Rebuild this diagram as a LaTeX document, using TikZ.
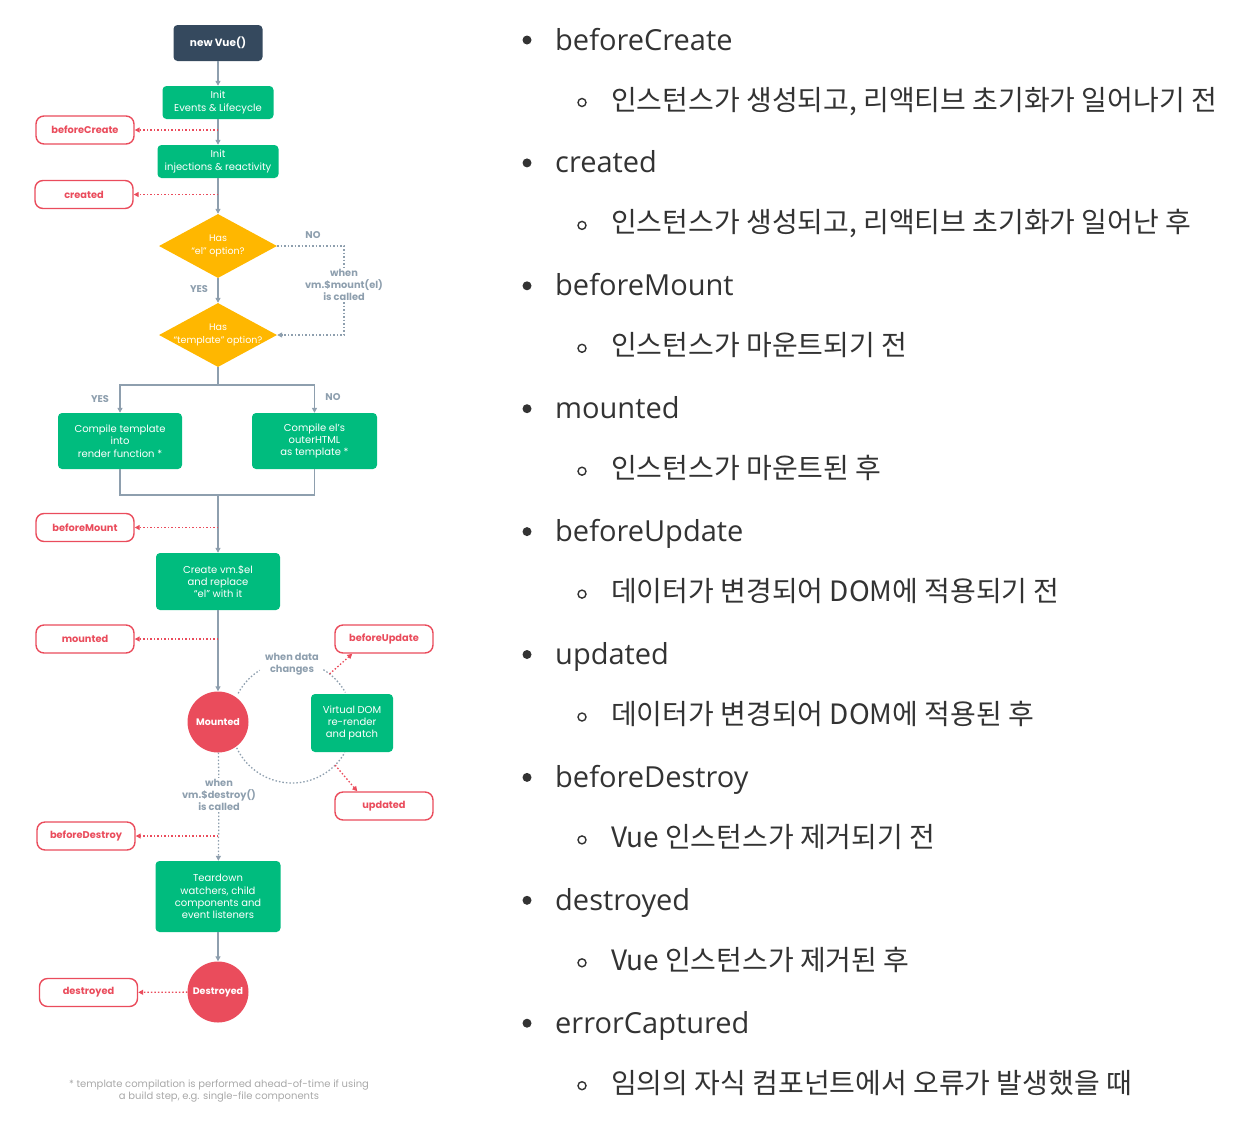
\documentclass[tikz,border=0pt]{standalone}
\usepackage{fontspec}
\setmainfont{Poppins}
\newfontfamily\headfont{Open Sans}
\newfontfamily\krfont{Noto Sans CJK KR}
\usetikzlibrary{arrows.meta,shapes.geometric,calc}
\definecolor{vgreen}{HTML}{00BC7E}
\definecolor{vnavy}{HTML}{35495E}
\definecolor{vyellow}{HTML}{FFB700}
\definecolor{vred}{HTML}{EA4C5C}
\definecolor{vgray}{HTML}{8E9FAE}
\definecolor{note}{HTML}{A8A8A8}
\definecolor{ink}{HTML}{333333}
\tikzset{
  stagebox/.style={rectangle, rounded corners=4pt, fill=vgreen, text=white, inner sep=0pt, align=center, font=\fontsize{10}{12.3}\selectfont},
  hookbox/.style={rectangle, rounded corners=8pt, draw=vred, line width=1.4pt, fill=white, text=vred, minimum width=98pt, minimum height=28pt, inner sep=0pt, font=\fontsize{9.8}{11}\selectfont\bfseries},
  choice/.style={diamond, shape aspect=1.85, fill=vyellow, text=white, minimum width=118pt, minimum height=64pt, inner sep=0pt, align=center, font=\fontsize{9.5}{12.3}\selectfont},
  state/.style={circle, fill=vred, text=white, minimum size=61pt, inner sep=0pt, font=\fontsize{9.5}{11}\selectfont\bfseries},
  tip/.style={-{Triangle[length=5pt,width=5pt]}},
  flow/.style={draw=vgray, line width=1.3pt, tip},
  flat/.style={draw=vgray, line width=1.3pt},
  waitline/.style={draw=vgray, line width=1.3pt, dash pattern=on 1.5pt off 2pt},
  cycleline/.style={draw=vgray, line width=1.3pt, dash pattern=on 1.5pt off 2pt},
  hookline/.style={draw=vred, line width=1.3pt, dash pattern=on 1.5pt off 2pt, tip},
  cond/.style={text=vgray, font=\fontsize{9.8}{12.3}\selectfont\bfseries, align=center, inner sep=1pt},
  dot/.style={circle, fill=ink, minimum size=9pt, inner sep=0pt},
  ring/.style={circle, draw=ink, line width=1.4pt, minimum size=8pt, inner sep=0pt},
  headtxt/.style={anchor=base west, inner sep=0pt, text=ink, font=\headfont\fontsize{29}{32}\selectfont},
  subtxt/.style={anchor=base west, inner sep=0pt, text=ink, font=\krfont\fontsize{28}{32}\selectfont},
}
\begin{document}
\begin{tikzpicture}[x=1pt,y=-1pt]
  \useasboundingbox (0,0) rectangle (1258,1125);
  % lifecycle column
  \node[stagebox, fill=vnavy, minimum width=89pt, minimum height=36pt, font=\fontsize{10.5}{12}\selectfont\bfseries] (vue) at (218,43) {new Vue()};
  \node[stagebox, minimum width=111pt, minimum height=33pt] (events) at (218,102.5) {Init\\Events \& Lifecycle};
  \node[stagebox, minimum width=121pt, minimum height=33pt] (inject) at (218,161.5) {Init\\injections \& reactivity};
  \node[choice] (hasel) at (218,246) {Has\\\makebox[0pt]{“el” option?}};
  \node[choice] (hastpl) at (218,335) {Has\\\makebox[0pt]{“template” option?}};
  \node[stagebox, minimum width=124pt, minimum height=56pt] (compile) at (120,441) {Compile template\\into\\render function *};
  \node[stagebox, minimum width=125pt, minimum height=56pt] (outer) at (314.5,441) {Compile el’s\\outerHTML\\as template *};
  \node[stagebox, minimum width=124pt, minimum height=57pt] (create) at (218,581.5) {Create vm.\$el\\and replace\\“el” with it};
  \node[state] (mounted) at (218,722) {Mounted};
  \node[stagebox, minimum width=82pt, minimum height=58pt] (vdom) at (352,723) {Virtual DOM\\re-render\\and patch};
  \node[stagebox, minimum width=125pt, minimum height=71pt] (teardown) at (218,896.5) {Teardown\\watchers, child\\components and\\event listeners};
  \node[state] (destroyed) at (218,992) {Destroyed};

  % hooks
  \node[hookbox] (bcreate) at (85,130) {beforeCreate};
  \node[hookbox] (created) at (84,194.5) {created};
  \node[hookbox] (bmount) at (85,527.5) {beforeMount};
  \node[hookbox] (mountedh) at (85,639) {mounted};
  \node[hookbox] (bupdate) at (384,639) {beforeUpdate};
  \node[hookbox] (updated) at (384,806) {updated};
  \node[hookbox] (bdestroy) at (86,836) {beforeDestroy};
  \node[hookbox] (destroyedh) at (88.5,992.5) {destroyed};

  % conditions
  \node[cond] (no1) at (313,235) {NO};
  \node[cond] (yes1) at (199,289) {YES};
  \node[cond] (yes2) at (100,399) {YES};
  \node[cond] (no2) at (333,397) {NO};
  \node[cond] (mountcall) at (344,285) {when\\vm.\$mount(el)\\is called};
  \node[cond] (datachg) at (292,664) {when data\\changes};
  \node[cond] (destroycall) at (219,795) {when\\vm.\$destroy()\\is called};

  \coordinate (fork) at (218,385);
  \coordinate (join) at (218,495);
  \coordinate (cyc) at (292,722);

  \draw[flow] (vue) -- (events);
  \draw[flow] (events) -- (inject);
  \draw[flow] (inject) -- (hasel);
  \draw[flow] (hasel) -- (hastpl);
  \draw[flat] (hastpl) -- (fork);
  \draw[flow] (fork) -| (compile);
  \draw[flow] (fork) -| (outer);
  \draw[flat] (compile) |- (join) -| (outer);
  \draw[flow] (join) -- (create);
  \draw[flow] (create) -- (mounted);
  \draw[waitline] (mounted) -- (destroycall);
  \draw[waitline, tip] (destroycall) -- (teardown);
  \draw[flow] (teardown) -- (destroyed);
  \draw[waitline] (hasel) -| (mountcall);
  \draw[waitline, tip] (mountcall) |- (hastpl);

  \draw[hookline] (bcreate -| events) -- (bcreate);
  \draw[hookline] (created -| inject) -- (created);
  \draw[hookline] (bmount -| create) -- (bmount);
  \draw[hookline] (mountedh -| create) -- (mountedh);
  \draw[hookline] (bdestroy -| teardown) -- (bdestroy);
  \draw[hookline] (destroyed) -- (destroyedh);

  % update cycle
  \draw[cycleline] ($(cyc)+(-152:61)$) arc[start angle=-152, end angle=-122, radius=61];
  \draw[cycleline] ($(cyc)+(-59:61)$) arc[start angle=-59, end angle=-29, radius=61];
  \draw[cycleline] ($(cyc)+(-205:61)$) arc[start angle=-205, end angle=-330, radius=61];
  \draw[hookline] ($(cyc)+(-52:61)$) -- ($(bupdate.south west)+(18,0)$);
  \draw[hookline] ($(cyc)+(45:61)$) -- ($(updated.north west)+(23,0)$);

  \node[text=note, align=center, font=\fontsize{10}{12.5}\selectfont] (foot) at (219,1091) {* template compilation is performed ahead-of-time if using\\a build step, e.g. single-file components};

  % hook list
  \foreach \hook/\desc [count=\i from 0] in {
      beforeCreate/{인스턴스가 생성되고, 리액티브 초기화가 일어나기 전},
      created/{인스턴스가 생성되고, 리액티브 초기화가 일어난 후},
      beforeMount/{인스턴스가 마운트되기 전},
      mounted/{인스턴스가 마운트된 후},
      beforeUpdate/{데이터가 변경되어 DOM에 적용되기 전},
      updated/{데이터가 변경되어 DOM에 적용된 후},
      beforeDestroy/{Vue 인스턴스가 제거되기 전},
      destroyed/{Vue 인스턴스가 제거된 후},
      errorCaptured/{임의의 자식 컴포넌트에서 오류가 발생했을 때}} {
    \node[dot] (b\i) at (527,40+122.9*\i) {};
    \node[headtxt] (h\i) at (555,50+122.9*\i) {\hook};
    \node[ring] (r\i) at (582,102.5+122.9*\i) {};
    \node[subtxt] (s\i) at (611,110+122.9*\i) {\desc};
  }
\end{tikzpicture}
\end{document}
